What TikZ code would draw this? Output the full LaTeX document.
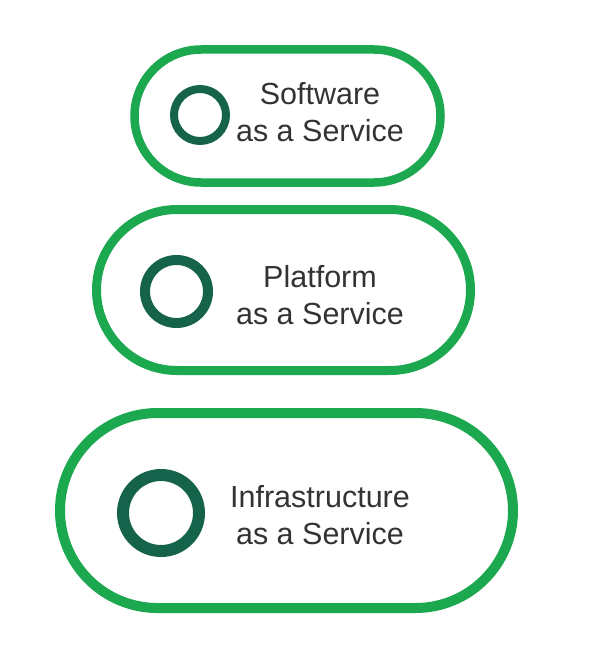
\documentclass[tikz,border=0pt]{standalone}
\usepackage{fontspec}
\setmainfont{Liberation Sans}
\definecolor{pillgreen}{HTML}{1BA84F}
\definecolor{ringgreen}{HTML}{14634A}
\definecolor{labelgray}{HTML}{333333}

\begin{document}
\begin{tikzpicture}[x=1pt, y=-1pt]
    \tikzset{
      pill/.style={draw=pillgreen, rectangle, inner sep=0pt},
      ring/.style={draw=ringgreen, circle, inner sep=0pt},
      service/.style={color=labelgray, align=center, font=\fontsize{30.5}{37}\selectfont}
    }
    \useasboundingbox (0,0) rectangle (600,661);
    \draw (287.5,116) node (saas) [pill, line width=8.5pt, minimum width=306pt, minimum height=133pt, rounded corners=66.5pt] {};
    \draw (283.5,290) node (paas) [pill, line width=9pt, minimum width=374pt, minimum height=161pt, rounded corners=80.5pt] {};
    \draw (286.5,510.5) node (iaas) [pill, line width=10pt, minimum width=453pt, minimum height=195pt, rounded corners=97.5pt] {};

    \draw (200,115) node (saasring) [ring, line width=8pt, minimum size=52pt] {};
    \draw (176.5,291.5) node (paasring) [ring, line width=10pt, minimum size=63pt] {};
    \draw (161,513) node (iaasring) [ring, line width=12pt, minimum size=76pt] {};

    \draw (320,112) node (saastext) [service] {Software\\as a Service};
    \draw (320,295.5) node (paastext) [service] {Platform\\as a Service};
    \draw (320,515.5) node (iaastext) [service] {Infrastructure\\as a Service};
\end{tikzpicture}
\end{document}
